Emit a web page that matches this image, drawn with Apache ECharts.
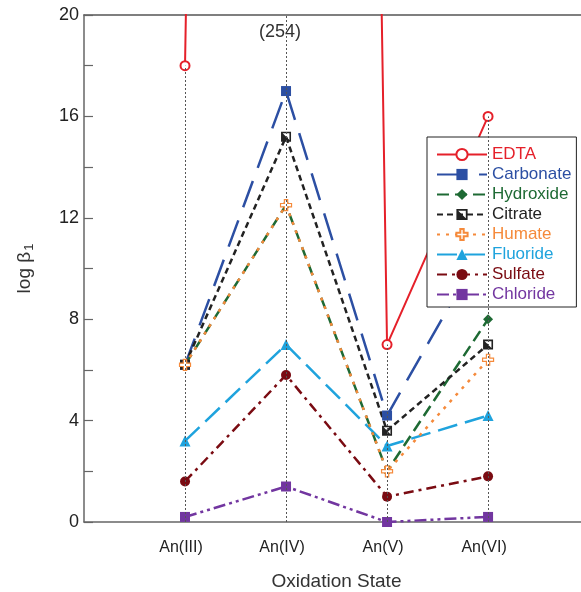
<!DOCTYPE html>
<html>
<head>
<meta charset="utf-8">
<script src="https://cdn.jsdelivr.net/npm/echarts@6/dist/echarts.min.js"></script>
<style>
html,body{margin:0;padding:0;background:#fff;}
#chart{width:581px;height:592px;}
</style>
</head>
<body>
<div id="chart"></div>
<script>
// ---- data ----
var categories = ['An(III)', 'An(IV)', 'An(V)', 'An(VI)'];
var yTicks = [0, 4, 8, 12, 16, 20];
var edta      = [18, 254, 7, 16];
var carbonate = [6.2, 17, 4.2, 11.2];
var hydroxide = [6.2, 12.5, 2.0, 8.0];
var citrate   = [6.2, 15.2, 3.6, 7.0];
var humate    = [6.2, 12.5, 2.0, 6.4];
var fluoride  = [3.2, 7.0, 3.0, 4.2];
var sulfate   = [1.6, 5.8, 1.0, 1.8];
var chloride  = [0.2, 1.4, 0.0, 0.2];
var seriesNames = ['EDTA', 'Carbonate', 'Hydroxide', 'Citrate', 'Humate', 'Fluoride', 'Sulfate', 'Chloride'];

var YMAX = 20;
var FONT = '"Liberation Sans", Arial, Helvetica, sans-serif';

function pts(arr) { return arr.map(function (v, i) { return [i + 1, v]; }); }

var colors = {
  EDTA: '#e5202a', Carbonate: '#2c4fa3', Hydroxide: '#1e6a34', Citrate: '#222222',
  Humate: '#f58a3b', Fluoride: '#1fa3dd', Sulfate: '#7a0b12', Chloride: '#7236a0'
};
var citrateSym = 'path://M0,0 L10,0 L10,10 L0,10 Z M1.6,1.6 L8.4,8.4 L8.4,1.6 Z';
var plusSym = 'path://M3.5,0 L6.5,0 L6.5,3.5 L10,3.5 L10,6.5 L6.5,6.5 L6.5,10 L3.5,10 L3.5,6.5 L0,6.5 L0,3.5 L3.5,3.5 Z';

function mk(name, data, dash, width, symbol, size, extra) {
  var s = {
    name: name, type: 'line', data: pts(data), clip: true,
    symbol: symbol, symbolSize: size, showSymbol: true,
    lineStyle: { color: colors[name], width: width, type: dash },
    itemStyle: { color: colors[name], borderColor: colors[name], borderWidth: 0 },
    emphasis: { disabled: true }, animation: false
  };
  if (extra) { for (var k in extra) s[k] = extra[k]; }
  return s;
}

var all = [edta, carbonate, hydroxide, citrate, humate, fluoride, sulfate, chloride];
var dropLines = categories.map(function (c, i) {
  var m = Math.max.apply(null, all.map(function (a) { return a[i]; }));
  return [{ coord: [i + 1, 0] }, { coord: [i + 1, Math.min(m, YMAX)] }];
});

var series = [
  {
    name: 'drop', type: 'line', data: [], silent: true, animation: false,
    markLine: {
      symbol: 'none', silent: true, animation: false,
      lineStyle: { color: '#555', type: [2, 2], width: 1 },
      label: { show: false }, data: dropLines
    }
  },
  mk('Chloride', chloride, [12, 4, 3, 4, 3, 4], 2.5, 'rect', 10),
  mk('Sulfate', sulfate, [10, 5, 3, 5], 2.5, 'circle', 10),
  mk('Fluoride', fluoride, [20, 8], 2.5, 'triangle', 11),
  mk('Carbonate', carbonate, [28, 14], 2.5, 'rect', 10),
  mk('Hydroxide', hydroxide, [12, 6], 2.5, 'diamond', 10),
  mk('Citrate', citrate, [6, 4], 2.5, citrateSym, 10),
  mk('Humate', humate, [3, 6], 2.5, plusSym, 11, {
    itemStyle: { color: '#fff', borderColor: colors.Humate, borderWidth: 1.2 }
  }),
  mk('EDTA', edta, 'solid', 2, 'emptyCircle', 9, {
    itemStyle: { color: colors.EDTA, borderWidth: 1.2 },
    markPoint: {
      silent: true, animation: false, symbol: 'circle', symbolSize: 0,
      data: [{ coord: [2, YMAX], value: '(' + edta[1] + ')' }],
      label: { show: true, position: 'inside', offset: [-6, 17], formatter: '{c}',
               color: '#333', fontSize: 18, fontFamily: FONT }
    }
  })
];

var legendData = seriesNames.map(function (n) {
  return { name: n, textStyle: { color: colors[n] } };
});

var chart = echarts.init(document.getElementById('chart'), null, { renderer: 'canvas' });
chart.setOption({
  backgroundColor: '#fff',
  animation: false,
  textStyle: { fontFamily: FONT },
  grid: { left: 84, top: 15, right: 0, bottom: 70, containLabel: false, outerBoundsMode: 'none' },
  legend: {
    data: legendData, orient: 'vertical', left: 427, top: 137,
    backgroundColor: '#fff', borderColor: '#222', borderWidth: 1,
    padding: [9, 5, 4, 9], itemGap: 3, itemWidth: 50, itemHeight: 14,
    textStyle: { fontSize: 17, fontFamily: FONT, padding: [0, 0, 0, 0] },
    selectedMode: false
  },
  xAxis: [{
    type: 'value', min: 0, max: 4.92, interval: 1, position: 'bottom',
    axisLine: { show: true, lineStyle: { color: '#666', width: 1.5 } },
    axisTick: { show: false }, splitLine: { show: false },
    axisLabel: {
      color: '#222', fontSize: 16, margin: 18, fontFamily: FONT, padding: [0, 8, 0, 0],
      formatter: function (v) { return Number.isInteger(v) && categories[v - 1] ? categories[v - 1] : ''; }
    },
    name: 'Oxidation State', nameLocation: 'middle', nameGap: 50,
    nameTextStyle: { color: '#333', fontSize: 19, fontFamily: FONT, padding: [0, 0, 0, 8] }
  }, {
    type: 'value', min: 0, max: 4.92, position: 'top',
    axisLine: { show: true, lineStyle: { color: '#555', width: 1.5 } },
    axisTick: { show: false }, axisLabel: { show: false }, splitLine: { show: false }
  }],
  yAxis: {
    type: 'value', min: 0, max: YMAX, interval: 2,
    axisLine: { show: true, lineStyle: { color: '#666', width: 1.5 } },
    axisTick: { show: true, inside: true, length: 9, lineStyle: { color: '#666', width: 1.2 } },
    splitLine: { show: false },
    axisLabel: {
      color: '#222', fontSize: 18, margin: 5, fontFamily: FONT,
      formatter: function (v) { return yTicks.indexOf(v) >= 0 ? String(v) : ''; }
    },
    name: 'log β{s|1}', nameLocation: 'middle', nameGap: 48,
    nameTextStyle: {
      color: '#333', fontSize: 19, fontFamily: FONT,
      rich: { s: { fontSize: 13, fontFamily: FONT, color: '#333', padding: [9, 0, 0, 1] } }
    }
  },
  series: series
});
</script>
</body>
</html>
